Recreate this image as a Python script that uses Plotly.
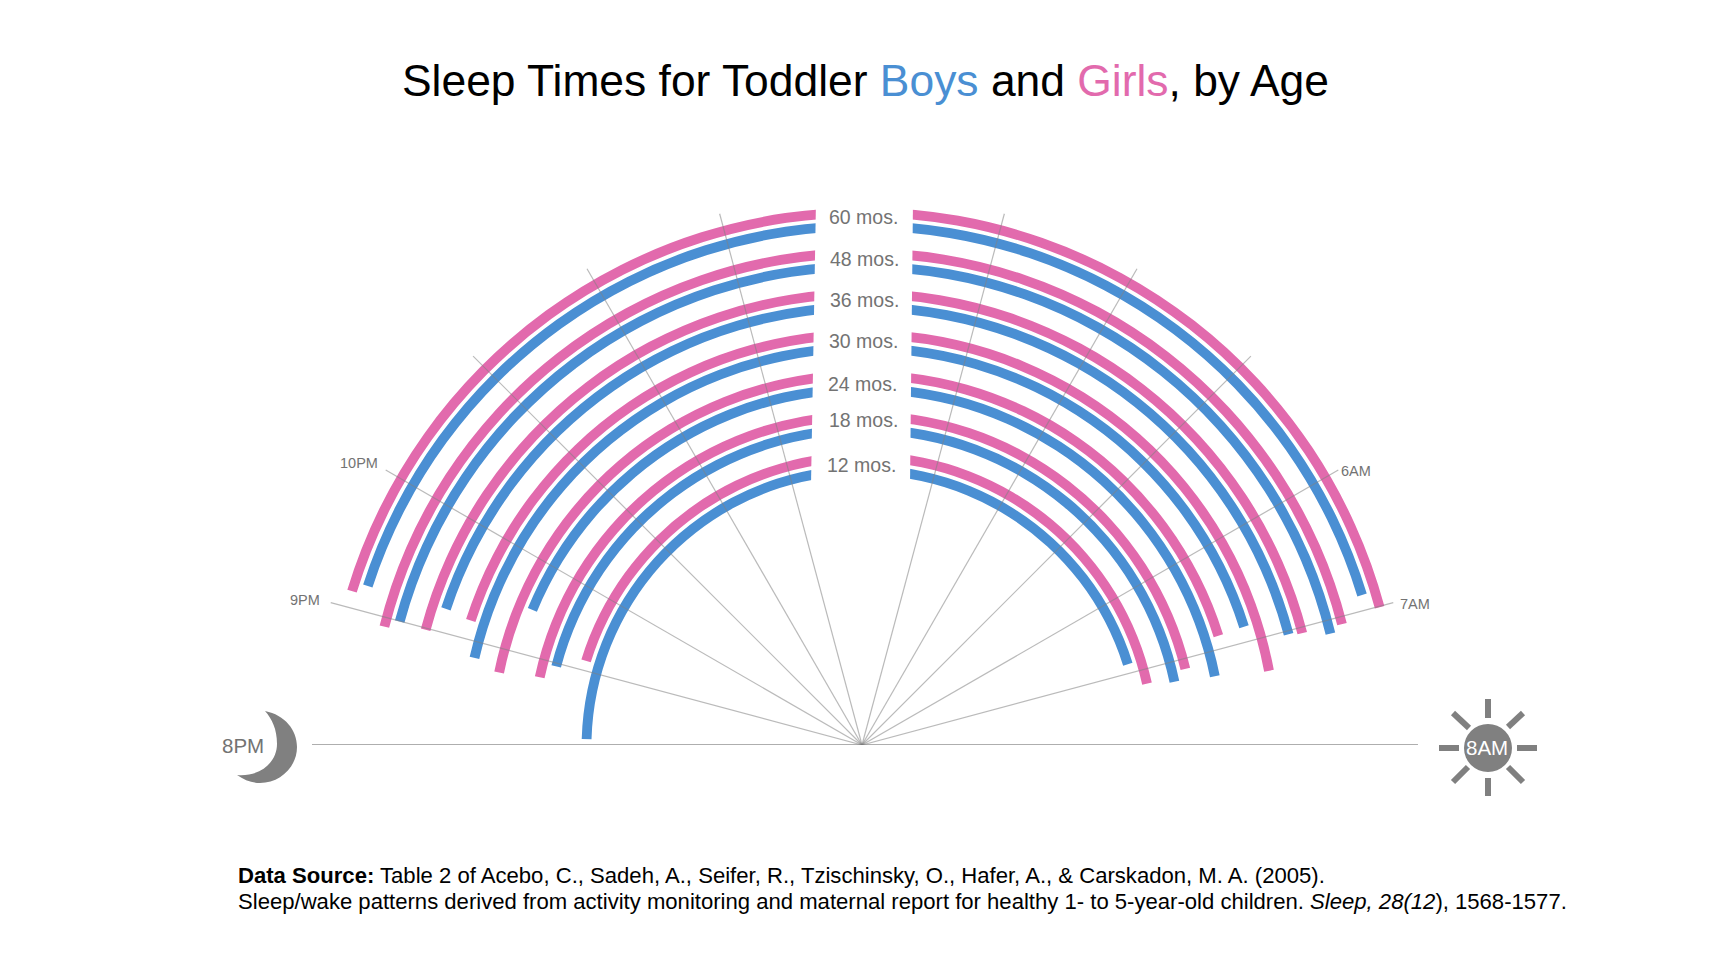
"""Sleep times for toddler boys and girls, drawn as half-ring clock."""

import plotly.graph_objects as go

AGES = ["12 mos.", "18 mos.", "24 mos.", "30 mos.", "36 mos.", "48 mos.", "60 mos."]

# hours after 8PM
BOYS_BED = [0.11, 0.98, 1.50, 0.86, 1.22, 1.01, 1.20]
GIRLS_BED = [1.15, 0.81, 0.77, 1.19, 1.00, 0.94, 1.13]
BOYS_WAKE = [10.84, 11.21, 11.24, 10.83, 11.01, 11.09, 10.87]
GIRLS_WAKE = [11.16, 11.09, 10.84, 11.29, 11.03, 11.04, 10.99]

SPOKE_HOURS = [1, 2, 3, 4, 5, 7, 8, 9, 10, 11]

PINK = "#e26aad"
BLUE = "#4a8fd3"
GREY = "#808080"
TEXT_GREY = "#737373"
FONT = "Liberation Sans"

W, H = 1710, 970
SPOKE_CX, SPOKE_CY = 862, 745
ARC_CX, ARC_CY = 863.5, 747
SPOKE_LEN, BASE_LEFT, BASE_RIGHT = 550, 550, 556
ARC_RANGE = 560
RING_START, RING_STEP, GENDER_GAP, THICKNESS = 277, 40.7, 13.5, 9.8

AGE_LABEL_POS = [(861, 465), (863, 420), (862, 384), (863, 341), (864, 300), (864, 259), (863, 217)]


def px(x):
    return x / W


def py(y):
    return 1 - y / H


def polar_domain(cx, cy, radius):
    return {"x": [px(cx - radius), px(cx + radius)], "y": [py(cy), py(cy - radius)]}


def hour_to_angle(hour):
    return 180 - 15 * hour


def add_rings(fig, bed, wake, offset, color, name):
    bases = [RING_START + RING_STEP * i + offset - THICKNESS / 2 for i in range(len(AGES))]
    fig.add_trace(
        go.Barpolar(
            r=[THICKNESS] * len(AGES),
            base=bases,
            theta=[hour_to_angle((b + w) / 2) for b, w in zip(bed, wake)],
            width=[15 * (w - b) for b, w in zip(bed, wake)],
            marker={"color": color, "line": {"width": 0}},
            name=name,
            customdata=AGES,
            hovertemplate="%{customdata}<extra>" + name + "</extra>",
            subplot="polar",
        )
    )


def add_spoke(fig, hour, length, color, width):
    fig.add_trace(
        go.Scatterpolar(
            r=[0, length],
            theta=[hour_to_angle(hour)] * 2,
            mode="lines",
            line={"color": color, "width": width},
            hoverinfo="skip",
            subplot="polar2",
        )
    )


fig = go.Figure()
add_rings(fig, BOYS_BED, BOYS_WAKE, 0, BLUE, "Boys")
add_rings(fig, GIRLS_BED, GIRLS_WAKE, GENDER_GAP, PINK, "Girls")

for hour in SPOKE_HOURS:
    add_spoke(fig, hour, SPOKE_LEN, "rgba(130,130,130,0.55)", 1.2)
add_spoke(fig, 0, BASE_LEFT, "rgba(120,120,120,0.8)", 1.6)
add_spoke(fig, 12, BASE_RIGHT, "rgba(120,120,120,0.8)", 1.6)


def polar_axes(radius):
    return {
        "sector": [0, 180],
        "bgcolor": "rgba(0,0,0,0)",
        "radialaxis": {"visible": False, "range": [0, radius]},
        "angularaxis": {"visible": False, "thetaunit": "degrees", "direction": "counterclockwise", "rotation": 0},
    }


# label gap over the top of the rings
gap = f"M {px(816)} {py(200)} L {px(811)} {py(485)} L {px(910)} {py(485)} L {px(913)} {py(200)} Z"
shapes = [{"type": "path", "path": gap, "xref": "paper", "yref": "paper",
           "fillcolor": "white", "line": {"width": 0}, "layer": "above"}]

moon_pts = (
    f"M {px(265)} {py(711)} C {px(285)} {py(715)} {px(297)} {py(730)} {px(297)} {py(747)} "
    f"C {px(297)} {py(767)} {px(280)} {py(783)} {px(260)} {py(783)} "
    f"C {px(252)} {py(783)} {px(244)} {py(780)} {px(237)} {py(775)} "
    f"C {px(262)} {py(777)} {px(277)} {py(761)} {px(277)} {py(744)} "
    f"C {px(277)} {py(729)} {px(272)} {py(719)} {px(265)} {py(711)} Z"
)
shapes.append({"type": "path", "path": moon_pts, "xref": "paper", "yref": "paper",
               "fillcolor": GREY, "line": {"width": 0}, "layer": "above"})

SUN_X, SUN_Y = 1488, 748
shapes.append({"type": "circle", "xref": "paper", "yref": "paper",
               "x0": px(SUN_X - 24), "x1": px(SUN_X + 24), "y0": py(SUN_Y + 24), "y1": py(SUN_Y - 24),
               "fillcolor": GREY, "line": {"width": 0}, "layer": "above"})
for dx0, dy0, dx1, dy1 in [(0, -49, 0, -30), (0, 30, 0, 48), (-49, 0, -29, 0), (29, 0, 49, 0),
                           (-35, -35, -19, -20), (35, -35, 20, -21), (-35, 34, -20, 19), (35, 34, 20, 19)]:
    shapes.append({"type": "line", "xref": "paper", "yref": "paper",
                   "x0": px(SUN_X + dx0), "y0": py(SUN_Y + dy0), "x1": px(SUN_X + dx1), "y1": py(SUN_Y + dy1),
                   "line": {"color": GREY, "width": 6}, "layer": "above"})


def note(x, y, text, size, color=TEXT_GREY, anchor="center"):
    return {"x": px(x), "y": py(y), "xref": "paper", "yref": "paper", "text": text, "showarrow": False,
            "xanchor": anchor, "yanchor": "middle", "font": {"family": FONT, "size": size, "color": color}}


annotations = [note(x, y, age, 19.5) for age, (x, y) in zip(AGES, AGE_LABEL_POS)]
annotations += [
    note(359, 463, "10PM", 14.5),
    note(305, 600, "9PM", 14.5),
    note(1356, 471, "6AM", 14.5),
    note(1415, 604, "7AM", 14.5),
    note(243, 745, "8PM", 20.5),
    note(1487, 747, "8AM", 20.5, color="white"),
    note(
        865, 80,
        f'Sleep Times for Toddler <span style="color:{BLUE}">Boys</span> and '
        f'<span style="color:{PINK}">Girls</span>, by Age',
        44.4, color="black",
    ),
    note(235.5, 875, "<b>Data Source:</b> Table 2 of Acebo, C., Sadeh, A., Seifer, R., Tzischinsky, O., Hafer, A., "
         "&amp; Carskadon, M. A. (2005).", 22.1, color="black", anchor="left"),
    note(235.5, 901, "Sleep/wake patterns derived from activity monitoring and maternal report for healthy 1- to "
         "5-year-old children. <i>Sleep, 28(12</i>), 1568-1577.", 22.1, color="black", anchor="left"),
]

fig.update_layout(
    width=W,
    height=H,
    margin={"l": 0, "r": 0, "t": 0, "b": 0},
    paper_bgcolor="white",
    showlegend=False,
    polar={**polar_axes(ARC_RANGE), "domain": polar_domain(ARC_CX, ARC_CY, ARC_RANGE), "barmode": "overlay"},
    polar2={**polar_axes(BASE_RIGHT), "domain": polar_domain(SPOKE_CX, SPOKE_CY, BASE_RIGHT)},
    shapes=shapes,
    annotations=annotations,
)

fig.write_html("out.html", config={"displayModeBar": False}, post_script="document.body.style.margin='0';")
